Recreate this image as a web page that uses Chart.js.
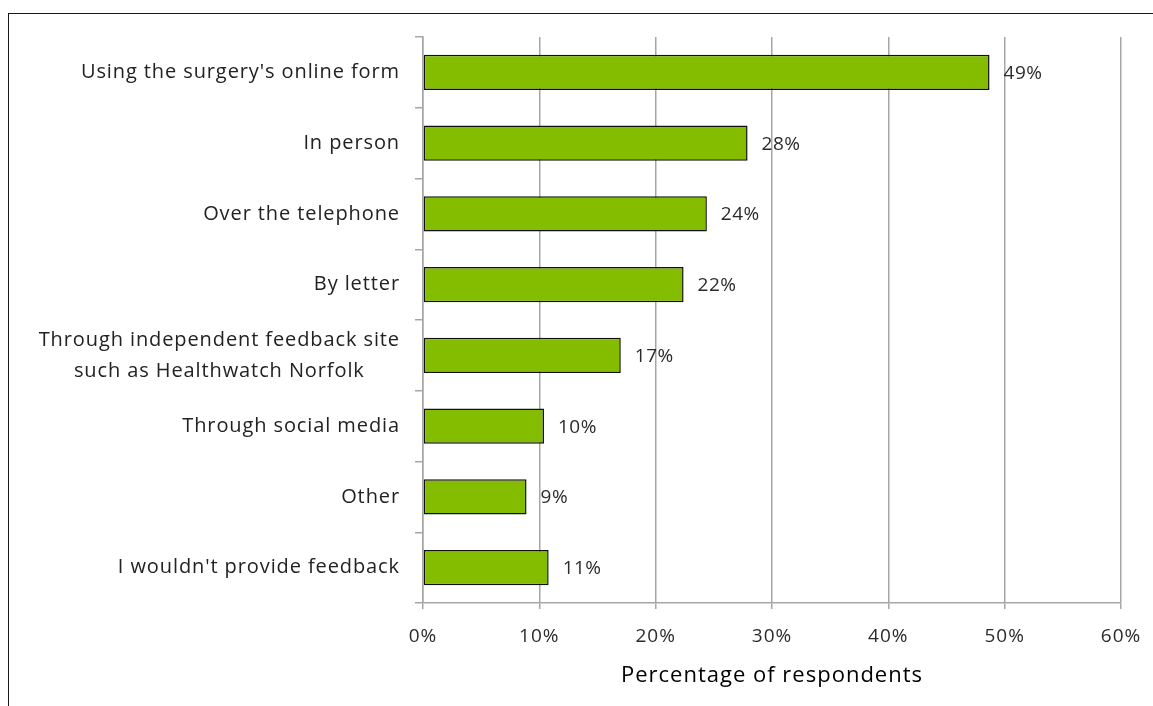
<!DOCTYPE html>
<html>
<head>
<meta charset="utf-8">
<script src="https://cdn.jsdelivr.net/npm/chart.js@4/dist/chart.umd.min.js"></script>
<style>
  html, body { margin: 0; padding: 0; background: #fff; overflow: hidden; }
  #wrap { position: relative; width: 1153px; height: 706px; overflow: hidden; }
  #frame { position: absolute; left: 8px; top: 13px; width: 1300px; height: 900px;
           border: 1.5px solid #1a1a1a; box-sizing: border-box; }
  #box { position: absolute; left: 0; top: 0; width: 1153px; height: 706px; }
</style>
</head>
<body>
<div id="wrap">
  <div id="frame"></div>
  <div id="box"><canvas id="feedbackChart"></canvas></div>
</div>
<script>
const categories = [
  "Using the surgery's online form",
  'In person',
  'Over the telephone',
  'By letter',
  ['Through independent feedback site', 'such as Healthwatch Norfolk'],
  'Through social media',
  'Other',
  "I wouldn't provide feedback"
];
const percentages = [48.7, 27.9, 24.4, 22.4, 17.0, 10.4, 8.9, 10.8];
const tickLabels = ['0%', '10%', '20%', '30%', '40%', '50%', '60%'];

const FONT = '"Open Sans", "DejaVu Sans", sans-serif';
const GRID = '#a6a6a6';

// a little extra tracking for every piece of text on the canvas
const tracking = {
  id: 'tracking',
  beforeDraw(chart) {
    chart.ctx.letterSpacing = '1px';
  }
};

// category names on the left: the block sits right-aligned, wrapped lines centred on each other
const categoryLabels = {
  id: 'categoryLabels',
  afterDraw(chart) {
    const { ctx } = chart;
    const y = chart.scales.y;
    ctx.save();
    ctx.font = '400 20px ' + FONT;
    ctx.letterSpacing = '0.9px';
    ctx.fillStyle = '#222';
    ctx.textBaseline = 'middle';
    ctx.textAlign = 'center';
    categories.forEach((label, i) => {
      const lines = Array.isArray(label) ? label : [label];
      const maxW = Math.max(...lines.map(l => ctx.measureText(l).width));
      const cx = y.right - 23 - maxW / 2;
      const yc = y.getPixelForValue(i);
      lines.forEach((l, j) => {
        ctx.fillText(l, cx, yc + (j - (lines.length - 1) / 2) * 31);
      });
    });
    ctx.restore();
  }
};

// value labels just past the end of each bar
const barValues = {
  id: 'barValues',
  afterDatasetsDraw(chart) {
    const { ctx } = chart;
    const meta = chart.getDatasetMeta(0);
    ctx.save();
    ctx.font = '400 19px ' + FONT;
    ctx.letterSpacing = '0.5px';
    ctx.fillStyle = '#2b2b2b';
    ctx.textBaseline = 'middle';
    ctx.textAlign = 'left';
    meta.data.forEach((bar, i) => {
      ctx.fillText(Math.round(percentages[i]) + '%', bar.x + 14, bar.y + 1);
    });
    ctx.restore();
  }
};

new Chart(document.getElementById('feedbackChart').getContext('2d'), {
  type: 'bar',
  data: {
    labels: categories,
    datasets: [{
      data: percentages,
      backgroundColor: '#84bc00',
      borderColor: '#111',
      borderWidth: 1.5,
      borderSkipped: false,
      categoryPercentage: 1,
      barPercentage: 0.5
    }]
  },
  options: {
    indexAxis: 'y',
    responsive: true,
    maintainAspectRatio: false,
    animation: false,
    layout: { padding: { top: 37, right: 32, left: 0, bottom: 0 } },
    plugins: {
      legend: { display: false },
      tooltip: { enabled: false }
    },
    scales: {
      x: {
        min: 0,
        max: 60,
        afterFit: s => {
          s.height = 103;
          s.paddingLeft = 0;
          s.paddingRight = 0;
        },
        ticks: {
          stepSize: 10,
          padding: 16,
          color: '#2b2b2b',
          font: { family: FONT, size: 19, weight: 400 },
          callback: (v, i) => tickLabels[i]
        },
        grid: { color: GRID, lineWidth: 1.5, tickLength: 6 },
        border: { color: GRID, width: 1.5 },
        title: {
          display: true,
          text: 'Percentage of respondents',
          color: '#000',
          font: { family: FONT, size: 22, weight: 500 },
          padding: { top: 14, bottom: 17 }
        }
      },
      y: {
        afterFit: s => { s.width = 423; },
        ticks: { display: false },
        grid: { drawOnChartArea: false, color: GRID, lineWidth: 1.5, tickLength: 8 },
        border: { color: GRID, width: 1.5 }
      }
    }
  },
  plugins: [tracking, categoryLabels, barValues]
});
</script>
</body>
</html>
